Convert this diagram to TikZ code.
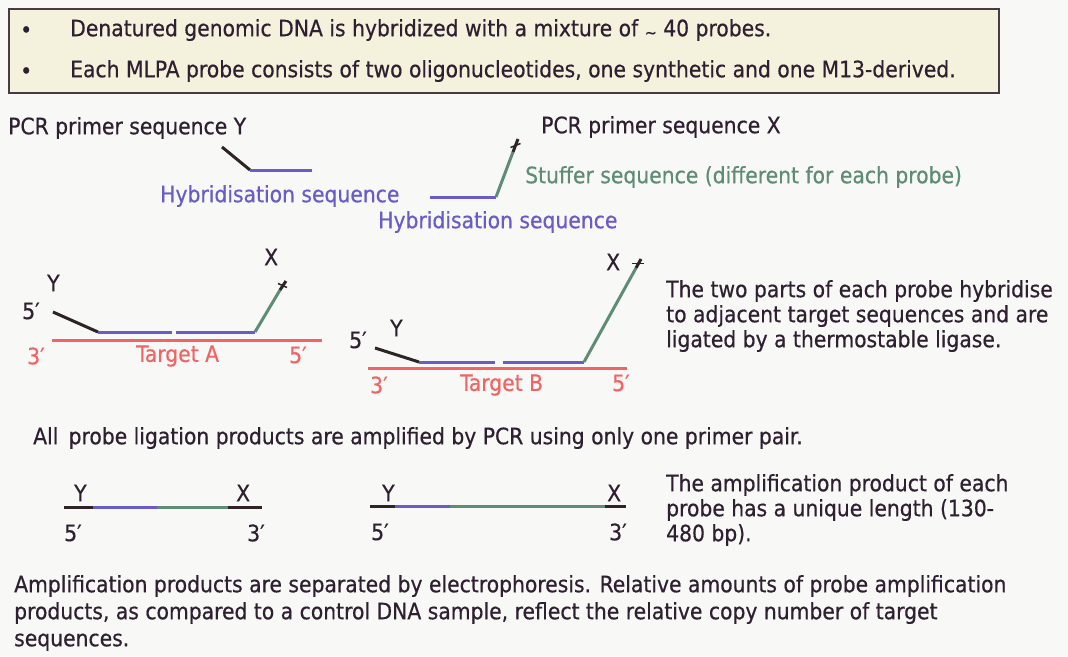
\documentclass[tikz,border=0pt]{standalone}
\usepackage{fontspec}
\usetikzlibrary{calc}
\setmainfont[FakeBold=0.5]{DejaVu Sans Condensed}
\definecolor{bgc}{HTML}{F8F8F6}
\definecolor{boxfill}{HTML}{F4F1DC}
\definecolor{boxc}{HTML}{4A3A44}
\definecolor{txtc}{HTML}{2E2030}
\definecolor{bluec}{HTML}{6A5CC8}
\definecolor{greenc}{HTML}{5E8C74}
\definecolor{redc}{HTML}{F06464}
\definecolor{blackc}{HTML}{2E2428}
\tikzset{
  txt/.style={font=\fontsize{22.6}{25}\selectfont, inner sep=0pt, text=txtc, anchor=west, align=left},
  btxt/.style={txt, text=bluec},
  gtxt/.style={txt, text=greenc},
  rtxt/.style={txt, text=redc},
  bline/.style={draw=bluec, line width=3pt},
  gline/.style={draw=greenc, line width=3pt},
  rline/.style={draw=redc, line width=3pt},
  kline/.style={draw=blackc, line width=3pt},
  tick/.style={draw=blackc, line width=1.5pt},
}
\begin{document}
\begin{tikzpicture}[x=1pt,y=-1pt]
\fill[bgc] (0,0) rectangle (1068,656);
\useasboundingbox (0,0) rectangle (1068,656);
% top box
\node[draw=boxc, fill=boxfill, line width=1.5pt, minimum width=990pt, minimum height=84pt, anchor=north west, inner sep=0pt] (box) at (8,8) {};
\node[txt] (b1) at (20,32) {•};
\node[txt] (b2) at (20,73) {•};
\node[txt] (l1) at (70,30) {Denatured genomic DNA is hybridized with a mixture of \raisebox{-2pt}{\fontsize{16}{16}\selectfont\textasciitilde} 40 probes.};
\node[txt] (l2) at (70,71) {Each MLPA probe consists of two oligonucleotides, one synthetic and one M13-derived.};
% probe parts
\node[txt] (pcry) at (8,128) {PCR primer sequence Y};
\node[txt] (pcrx) at (541,127) {PCR primer sequence X};
\coordinate (y1a) at (222,147);
\coordinate (y1b) at (250,170);
\coordinate (y1c) at (312,170);
\draw[kline] (y1a) -- (y1b);
\draw[bline] (y1b) -- (y1c);
\node[btxt] (hyb1) at (160,196) {Hybridisation sequence};
\coordinate (x1a) at (430,197);
\coordinate (x1b) at (496,197);
\coordinate (x1c) at (513,152);
\coordinate (x1d) at (518,139);
\draw[bline] (x1a) -- (x1b);
\draw[gline] (x1b) -- (x1c);
\draw[kline] (x1c) -- (x1d);
\draw[tick] ($(x1c)!0.5!(x1d)+(-5,2)$) -- ++(10,-4);
\node[gtxt] (stuff) at (525,177) {Stuffer sequence (different for each probe)};
\node[btxt] (hyb2) at (378,222) {Hybridisation sequence};
% target A
\node[txt] (xa) at (264,257) {X};
\node[txt] (ya) at (47,283) {Y};
\node[txt] (fa) at (22,311) {5′};
\coordinate (ka) at (53,312);
\coordinate (kb) at (98,332);
\coordinate (ba) at (172,332);
\coordinate (bb) at (176,332);
\coordinate (bc) at (255,332);
\coordinate (gc) at (280,290);
\coordinate (gd) at (286,281);
\draw[kline] (ka) -- (kb);
\draw[bline] (kb) -- (ba);
\draw[bline] (bb) -- (bc);
\draw[gline] (bc) -- (gc);
\draw[kline] (gc) -- (gd);
\draw[tick] ($(gc)!0.5!(gd)+(-5,-2)$) -- ++(9,4);
\coordinate (ra) at (52,340);
\coordinate (rb) at (322,340);
\draw[rline] (ra) -- (rb);
\node[rtxt] (t3a) at (27,356) {3′};
\node[rtxt] (tA) at (136,356) {Target A};
\node[rtxt] (t5a) at (289,355) {5′};
% target B
\node[txt] (fb) at (349,340) {5′};
\node[txt] (yb) at (390,328) {Y};
\node[txt] (xb) at (606,262) {X};
\coordinate (kc) at (375,348);
\coordinate (kd) at (419,362);
\coordinate (be) at (495,362);
\coordinate (bf) at (503,362);
\coordinate (bg) at (584,362);
\coordinate (ge) at (636,268);
\coordinate (gf) at (641,259);
\draw[kline] (kc) -- (kd);
\draw[bline] (kd) -- (be);
\draw[bline] (bf) -- (bg);
\draw[gline] (bg) -- (ge);
\draw[kline] (ge) -- (gf);
\draw[tick] ($(ge)!0.5!(gf)+(-7,0)$) -- ++(12,0);
\coordinate (rc) at (368,368);
\coordinate (rd) at (627,368);
\draw[rline] (rc) -- (rd);
\node[rtxt] (t3b) at (370,385) {3′};
\node[rtxt] (tB) at (460,385) {Target B};
\node[rtxt] (t5b) at (612,383) {5′};
\node[txt] (desc1) at (666,316) {The two parts of each probe hybridise\\to adjacent target sequences and are\\ligated by a thermostable ligase.};
% amplification
\node[txt] (amp) at (33,438) {All\, probe ligation products are amplified by PCR using only one primer pair.};
\node[txt] (p1y) at (74,493) {Y};
\node[txt] (p1x) at (236,493) {X};
\coordinate (p1a) at (64,507);
\coordinate (p1b) at (93,507);
\coordinate (p1c) at (157,507);
\coordinate (p1d) at (228,507);
\coordinate (p1e) at (262,507);
\draw[kline] (p1a) -- (p1b);
\draw[bline] (p1b) -- (p1c);
\draw[gline] (p1c) -- (p1d);
\draw[kline] (p1d) -- (p1e);
\node[txt] (p15) at (64,533) {5′};
\node[txt] (p13) at (247,533) {3′};
\node[txt] (p2y) at (382,493) {Y};
\node[txt] (p2x) at (607,493) {X};
\coordinate (p2a) at (370,506);
\coordinate (p2b) at (395,506);
\coordinate (p2c) at (450,506);
\coordinate (p2d) at (605,506);
\coordinate (p2e) at (626,506);
\draw[kline] (p2a) -- (p2b);
\draw[bline] (p2b) -- (p2c);
\draw[gline] (p2c) -- (p2d);
\draw[kline] (p2d) -- (p2e);
\node[txt] (p25) at (371,532) {5′};
\node[txt] (p23) at (609,532) {3′};
\node[txt] (desc2) at (666,510) {The amplification product of each\\probe has a unique length (130-\\480 bp).};
\node[txt, font=\fontsize{22.6}{27}\selectfont] (bottom) at (14,613) {Amplification products are separated by electrophoresis. Relative amounts of probe amplification\\products, as compared to a control DNA sample, reflect the relative copy number of target\\sequences.};
\end{tikzpicture}
\end{document}
